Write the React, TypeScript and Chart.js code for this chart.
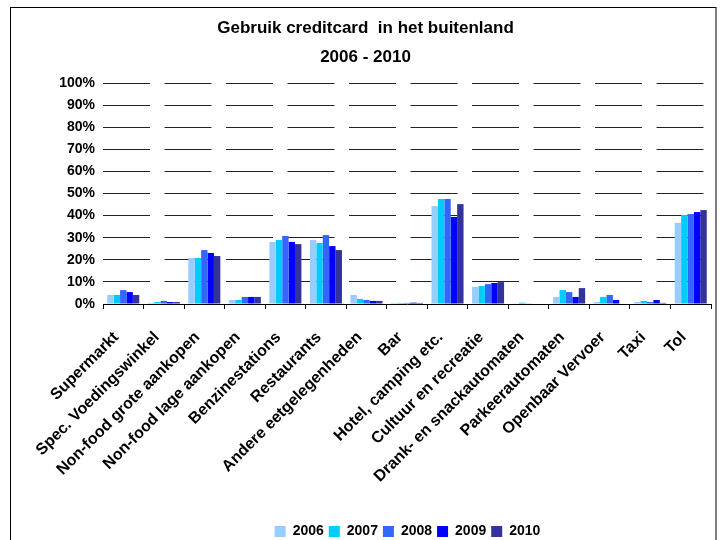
import React, { useEffect, useRef } from "react";
import { Chart, registerables } from "chart.js";

Chart.register(...registerables);

const categories = [
  "Supermarkt",
  "Spec. Voedingswinkel",
  "Non-food grote aankopen",
  "Non-food lage aankopen",
  "Benzinestations",
  "Restaurants",
  "Andere eetgelegenheden",
  "Bar",
  "Hotel, camping etc.",
  "Cultuur en recreatie",
  "Drank- en snackautomaten",
  "Parkeerautomaten",
  "Openbaar Vervoer",
  "Taxi",
  "Tol",
];

const years = ["2006", "2007", "2008", "2009", "2010"];

const v2006 = [4.1, 0.5, 20.8, 1.8, 28.1, 29.0, 4.1, 0.5, 44.3, 7.7, 0.3, 3.2, 0.9, 0.9, 36.7];
const v2007 = [4.1, 0.9, 20.8, 1.8, 29.0, 27.6, 2.3, 0.5, 47.5, 8.1, 0.6, 6.3, 3.2, 1.4, 40.3];
const v2008 = [6.3, 1.4, 24.4, 3.2, 30.8, 31.2, 1.8, 0.5, 47.5, 9.0, 0.3, 5.4, 4.1, 0.9, 40.7];
const v2009 = [5.4, 0.9, 23.1, 3.2, 28.1, 26.2, 1.4, 0.6, 39.4, 9.5, 0, 3.2, 1.8, 1.8, 41.6];
const v2010 = [4.1, 0.9, 21.7, 3.2, 27.1, 24.4, 1.4, 0.5, 45.2, 9.9, 0, 7.2, 0, 0.5, 42.5];

const seriesValues = [v2006, v2007, v2008, v2009, v2010];
const seriesColors = ["#99CCFF", "#00CCFF", "#3366FF", "#0000FF", "#333399"];

const titleLines = ["Gebruik creditcard  in het buitenland", "2006 - 2010"];
const yTicks = [0, 10, 20, 30, 40, 50, 60, 70, 80, 90, 100];

const FONT = "'Liberation Sans', Arial, Helvetica, sans-serif";

const framePlugin = {
  id: "frame",
  beforeDraw(chart: any) {
    const ctx = chart.ctx;
    ctx.save();
    ctx.fillStyle = "#ffffff";
    ctx.fillRect(0, 0, chart.width, chart.height);
    ctx.strokeStyle = "#000000";
    ctx.lineWidth = 1;
    ctx.strokeRect(10.5, 7.5, 705.5, 600);
    ctx.restore();
  },
};

const shiftPlugin = {
  id: "shiftBlocks",
  afterLayout(chart: any) {
    if (chart.legend) {
      chart.legend.left += 52;
      chart.legend.right += 52;
    }
    if (chart.titleBlock) {
      chart.titleBlock.left += 10;
      chart.titleBlock.right += 10;
    }
  },
};

export default function App() {
  const ref = useRef<HTMLCanvasElement | null>(null);

  useEffect(() => {
    if (!ref.current) return;
    const chart = new Chart(ref.current, {
      type: "bar",
      data: {
        labels: categories,
        datasets: years.map((y, i) => ({
          label: y,
          data: seriesValues[i],
          backgroundColor: seriesColors[i],
          borderWidth: 0,
          categoryPercentage: 0.79,
          barPercentage: 1,
        })),
      },
      options: {
        responsive: false,
        animation: false,
        layout: { padding: { left: 0, right: 14, top: 0, bottom: 11.5 } },
        plugins: {
          title: {
            display: true,
            text: titleLines,
            color: "#000",
            font: { family: FONT, size: 17, weight: "bold", lineHeight: 1.7 },
            padding: { top: 14, bottom: 11.2 },
          },
          legend: {
            display: true,
            position: "bottom",
            labels: {
              color: "#000",
              font: { family: FONT, size: 14, weight: "bold" },
              boxWidth: 11,
              boxHeight: 11,
              padding: 5,
            },
          },
          tooltip: { enabled: false },
        },
        scales: {
          x: {
            offset: true,
            grid: {
              offset: true,
              drawOnChartArea: false,
              drawTicks: true,
              tickLength: 5,
              tickColor: "#000",
              tickWidth: 1,
            },
            border: { display: true, color: "#000", width: 1 },
            ticks: {
              autoSkip: false,
              minRotation: 45,
              maxRotation: 45,
              padding: 19,
              labelOffset: -7,
              color: "#000",
              font: { family: FONT, size: 16, weight: "bold" },
            },
            afterFit(scale: any) {
              scale.height = 215.5;
            },
          },
          y: {
            min: 0,
            max: 100,
            afterBuildTicks(scale: any) {
              scale.ticks = yTicks.map((v) => ({ value: v }));
            },
            grid: {
              drawTicks: false,
              color: "#222",
              lineWidth: 1,
            },
            border: { display: false, dash: [47, 14.5] },
            ticks: {
              padding: 8,
              color: "#000",
              font: { family: FONT, size: 14, weight: "bold" },
              callback: (v: any) => v + "%",
            },
            afterFit(scale: any) {
              scale.width = 103;
            },
          },
        },
      },
      plugins: [framePlugin, shiftPlugin],
    });
    return () => chart.destroy();
  }, []);

  return (
    <div style={{ position: "fixed", left: 0, top: 0, width: 725, height: 560, overflow: "hidden" }}>
      <canvas ref={ref} width={725} height={560} style={{ display: "block" }} />
    </div>
  );
}
